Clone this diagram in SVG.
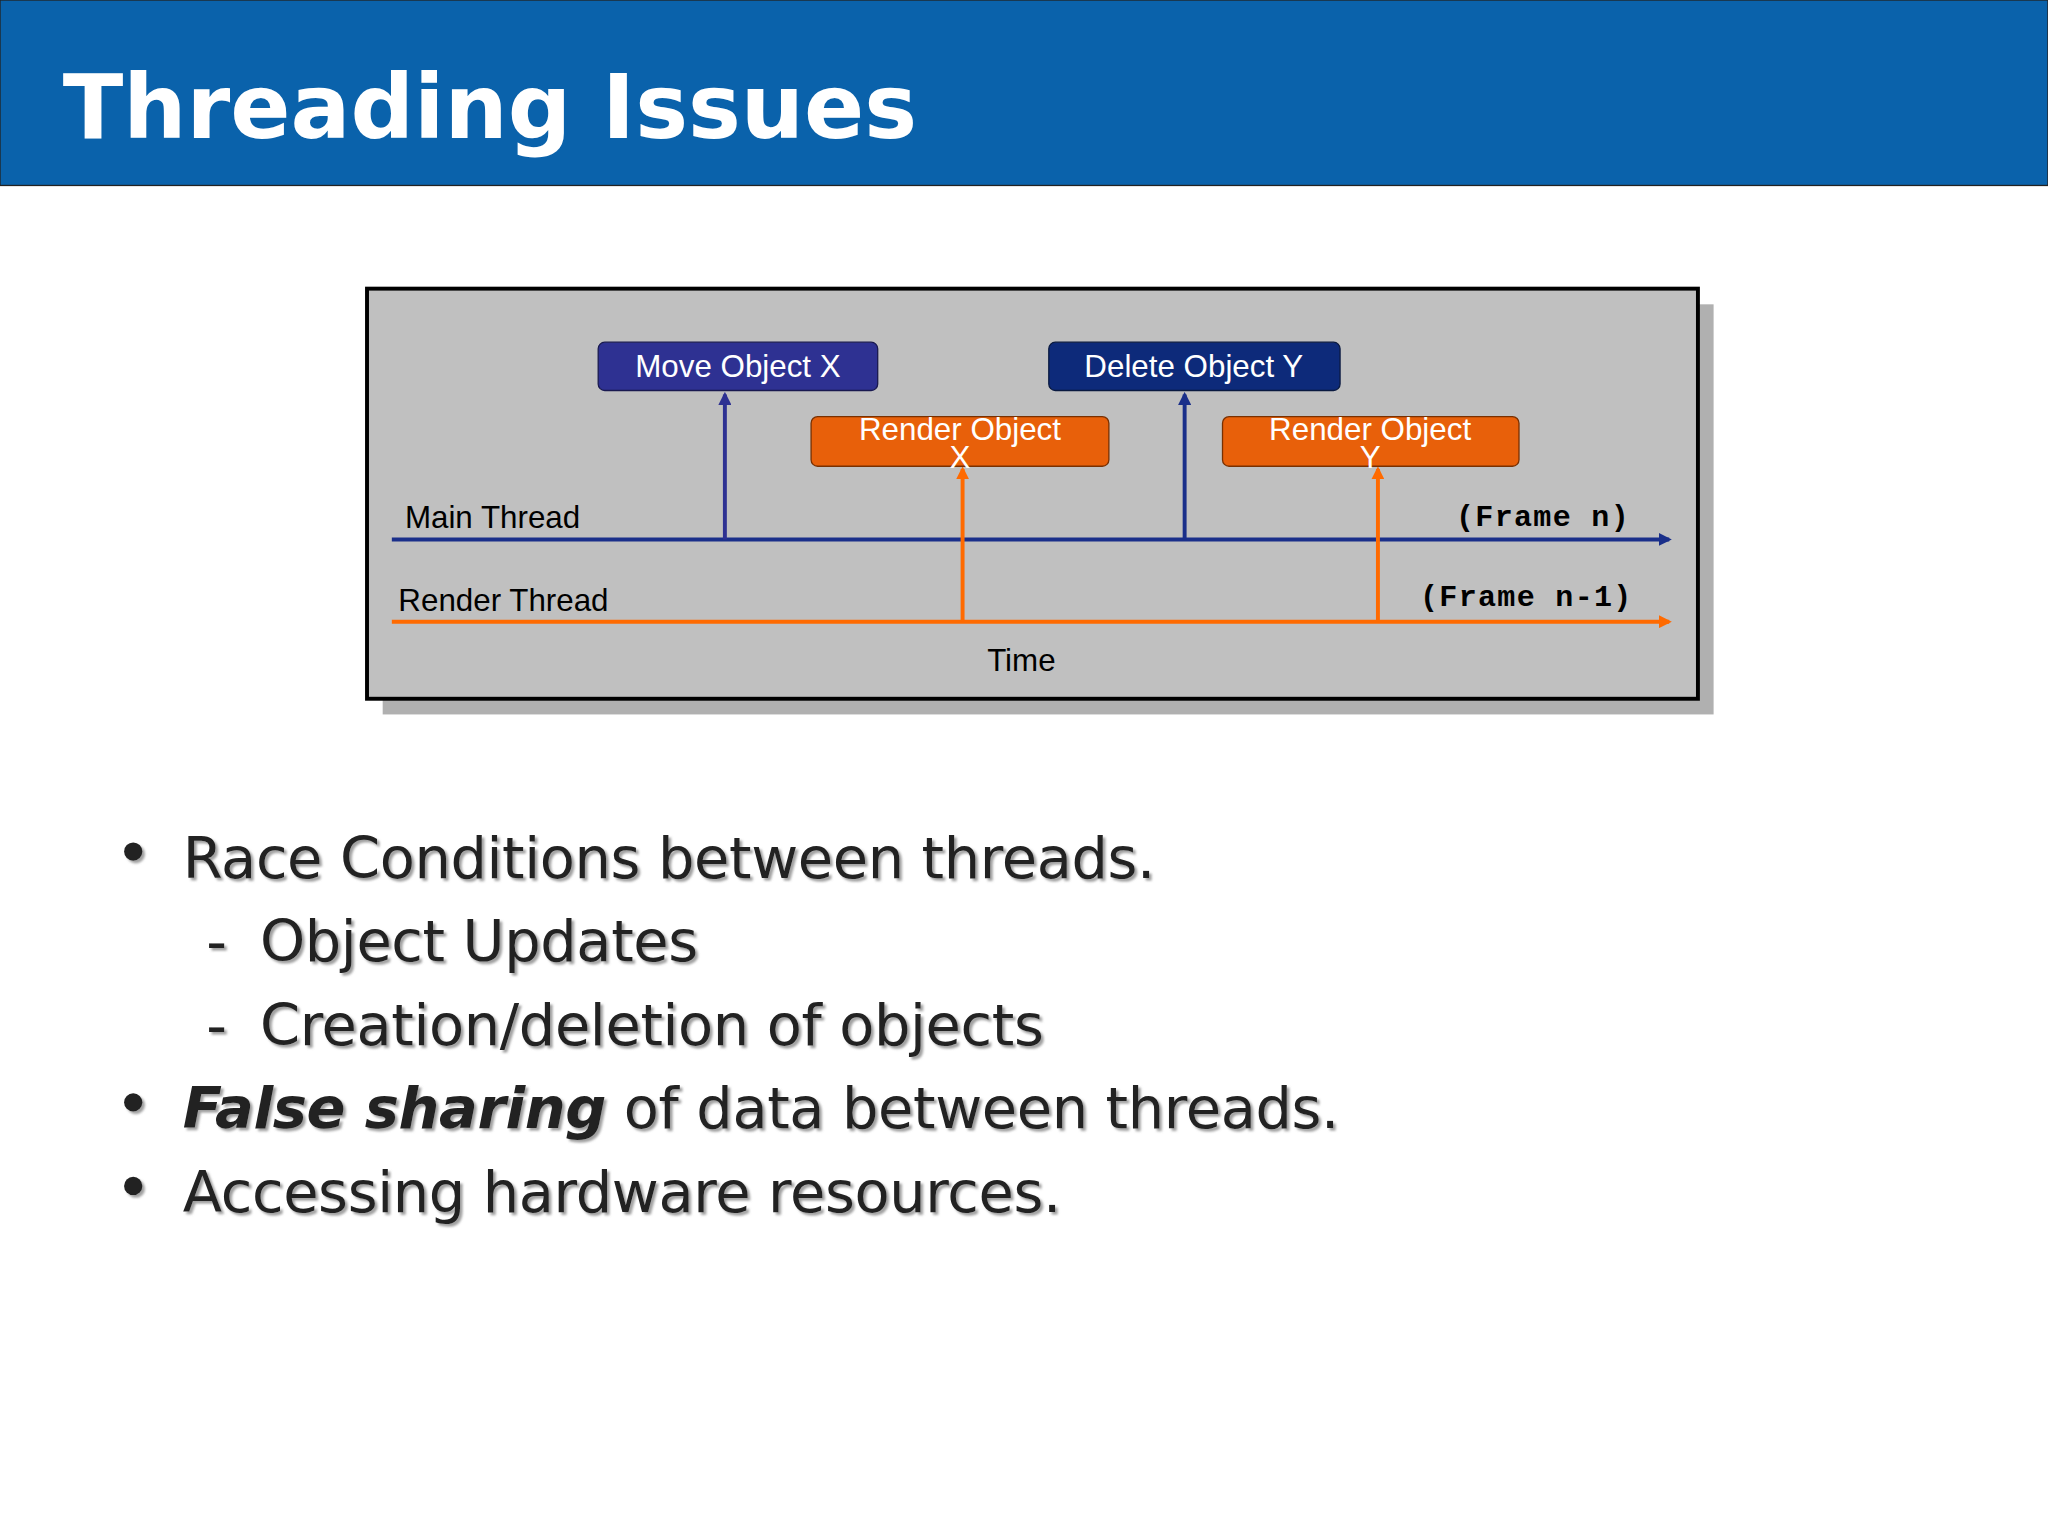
<svg xmlns="http://www.w3.org/2000/svg" width="2048" height="1536" viewBox="0 0 2048 1536">
<style>
.lbl{font-family:"Liberation Sans",Arial,sans-serif;font-size:24px}
.bt{font-family:"DejaVu Sans",Verdana,sans-serif;font-size:44px;fill:#222;letter-spacing:-0.3px}
.mono{font-family:"Liberation Mono","Courier New",monospace;font-size:23px;font-weight:bold;letter-spacing:1px}
</style>
<defs>
<marker id="an" markerWidth="10" markerHeight="10" refX="8" refY="5" orient="auto" markerUnits="userSpaceOnUse"><path d="M0,0 L10,5 L0,10 z" fill="#1a2f8a"/></marker>
<marker id="ap" markerWidth="10" markerHeight="10" refX="8" refY="5" orient="auto" markerUnits="userSpaceOnUse"><path d="M0,0 L10,5 L0,10 z" fill="#2e3192"/></marker>
<marker id="ao" markerWidth="10" markerHeight="10" refX="8" refY="5" orient="auto" markerUnits="userSpaceOnUse"><path d="M0,0 L10,5 L0,10 z" fill="#ff6a00"/></marker>
<filter id="sh"><feDropShadow dx="2" dy="2" stdDeviation="1" flood-color="#888" flood-opacity="0.8"/></filter>
</defs>
<rect width="2048" height="1536" fill="#fff"/>
<g transform="scale(1.3061)">
<rect x="0" y="0" width="1568" height="142" fill="#0a62ab" stroke="#222" stroke-width="1"/>
<text x="48" y="106" font-family="DejaVu Sans,Verdana,sans-serif" font-weight="bold" font-size="68" fill="#fff">Threading Issues</text>
<g id="frame">
<rect x="293" y="233" width="1019" height="314" fill="#b0b0b0"/>
<rect x="281" y="221" width="1019" height="314" fill="#c0c0c0" stroke="#000" stroke-width="3"/>
</g>
<g id="connectors">
<line x1="300" y1="413" x2="1278" y2="413" stroke="#1a2f8a" stroke-width="3" marker-end="url(#an)"/>
<line x1="300" y1="476" x2="1278" y2="476" stroke="#ff6a00" stroke-width="3" marker-end="url(#ao)"/>
<line x1="555" y1="413" x2="555" y2="302" stroke="#2e3192" stroke-width="3" marker-end="url(#ap)"/>
<line x1="907" y1="413" x2="907" y2="302" stroke="#1a2f8a" stroke-width="3" marker-end="url(#an)"/>
<line x1="737" y1="476" x2="737" y2="359" stroke="#ff6a00" stroke-width="3" marker-end="url(#ao)"/>
<line x1="1055" y1="476" x2="1055" y2="359" stroke="#ff6a00" stroke-width="3" marker-end="url(#ao)"/>
</g>
<g id="move"><rect x="458" y="262" width="214" height="37" rx="5" fill="#2e3192" stroke="#1a1a50"/><text class="lbl" x="565" y="289" fill="#fff" text-anchor="middle">Move Object X</text></g>
<g id="delete"><rect x="803" y="262" width="223" height="37" rx="5" fill="#0d2a7a" stroke="#0a1a40"/><text class="lbl" x="914" y="289" fill="#fff" text-anchor="middle">Delete Object Y</text></g>
<g id="renderx"><rect x="621" y="319" width="228" height="38" rx="5" fill="#e8600a" stroke="#7a3000"/><text class="lbl" x="735" y="337" fill="#fff" text-anchor="middle">Render Object</text><text class="lbl" x="735" y="358" fill="#fff" text-anchor="middle">X</text></g>
<g id="rendery"><rect x="936" y="319" width="227" height="38" rx="5" fill="#e8600a" stroke="#7a3000"/><text class="lbl" x="1049" y="337" fill="#fff" text-anchor="middle">Render Object</text><text class="lbl" x="1049" y="358" fill="#fff" text-anchor="middle">Y</text></g>
<text class="lbl" x="310" y="404">Main Thread</text>
<text class="lbl" x="305" y="468">Render Thread</text>
<text class="lbl" x="782" y="514" text-anchor="middle">Time</text>
<text class="mono" x="1248" y="403" text-anchor="end">(Frame n)</text>
<text class="mono" x="1250" y="464" text-anchor="end">(Frame n-1)</text>
<g filter="url(#sh)">
<circle cx="102" cy="652" r="7" fill="#222"/>
<text class="bt" x="140" y="672">Race Conditions between threads.</text>
<text class="bt" x="158" y="736">-</text><text class="bt" x="199" y="736">Object Updates</text>
<text class="bt" x="158" y="800">-</text><text class="bt" x="199" y="800">Creation/deletion of objects</text>
<circle cx="102" cy="844" r="7" fill="#222"/>
<text class="bt" x="140" y="864"><tspan font-weight="bold" font-style="italic">False sharing</tspan> of data between threads.</text>
<circle cx="102" cy="908" r="7" fill="#222"/>
<text class="bt" x="140" y="928">Accessing hardware resources.</text>
</g>
</g>
</svg>
